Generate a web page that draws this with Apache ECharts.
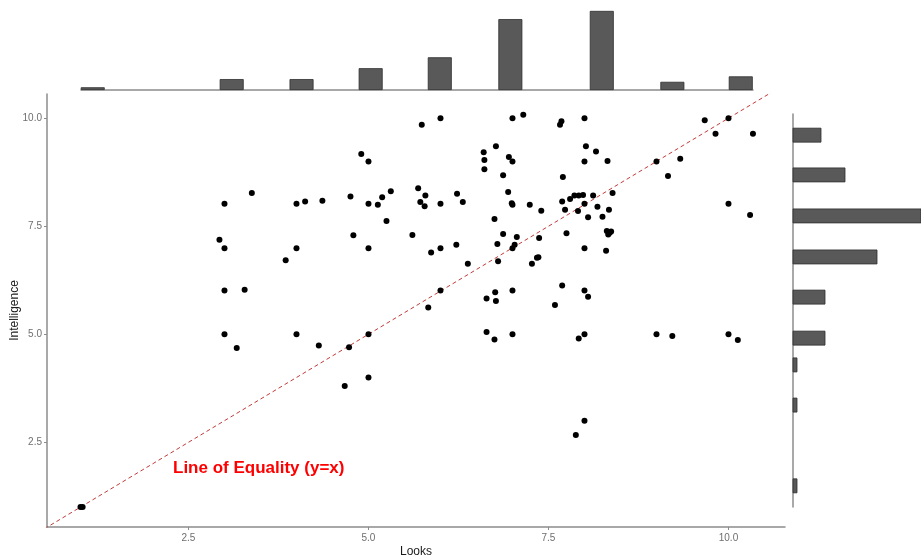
<!DOCTYPE html>
<html>
<head>
<meta charset="utf-8">
<script src="https://cdn.jsdelivr.net/npm/echarts@6/dist/echarts.min.js"></script>
<style>html,body{margin:0;padding:0;background:#fff}#c{width:921px;height:559px}</style>
</head>
<body>
<div id="c"></div>
<script>
// Scatter data: [Looks, Intelligence]
const looks = [1.0,1.03,3.0,3.17,4.0,4.31,4.73,5.0,5.0,4.67,3.0,3.28,3.85,2.93,3.0,4.0,5.0,4.79,5.25,3.0,3.38,4.0,4.12,4.36,4.75,5.0,5.13,5.19,5.31,4.9,5.0,5.61,5.69,5.72,5.79,5.78,5.74,6.0,5.87,6.0,6.0,6.0,5.83,6.23,6.31,6.22,6.38,6.6,6.61,6.61,6.77,6.95,7.0,6.87,7.0,7.15,6.94,6.99,7.0,6.75,6.87,6.79,7.06,7.03,7.0,6.8,6.64,6.76,6.77,7.0,6.64,6.75,7.0,7.24,7.4,7.37,7.34,7.36,7.27,7.59,7.68,7.66,8.0,7.7,7.69,7.8,7.86,7.92,7.98,8.12,8.0,7.73,7.91,8.05,7.75,8.0,8.02,8.16,8.18,8.0,7.69,8.0,8.05,7.92,8.0,8.0,7.88,8.32,8.39,8.34,8.25,8.31,8.35,8.33,8.37,8.3,9.0,9.33,9.16,9.0,9.22,9.67,10.0,9.82,10.34,10.0,10.3,10.0,10.13];
const intelligence = [1.0,1.0,5.0,4.68,5.0,4.74,4.7,5.0,4.0,3.8,6.01,6.03,6.71,7.19,6.99,6.99,6.99,7.29,7.62,8.02,8.27,8.02,8.07,8.09,8.19,8.02,8.0,8.17,8.31,9.17,9.0,7.3,8.38,8.06,8.21,7.96,9.85,10.0,6.89,8.02,6.99,6.01,5.62,8.25,8.06,7.07,6.63,9.21,9.03,8.82,9.35,9.1,9.0,8.68,10.0,10.08,8.29,8.03,8.0,7.67,7.32,7.09,7.25,7.07,6.99,6.69,5.83,5.97,5.77,6.01,5.05,4.88,5.0,8.0,7.86,7.23,6.77,6.78,6.63,5.68,9.93,9.85,10.0,8.64,8.07,8.13,8.21,8.21,8.22,8.21,8.02,7.88,7.85,7.71,7.34,9.0,9.35,9.23,7.95,6.99,6.13,6.01,5.87,4.9,5.0,3.0,2.67,9.01,8.27,7.88,7.72,7.39,7.35,7.31,7.38,6.93,9.0,9.06,8.66,5.0,4.96,9.95,10.0,9.64,9.64,8.02,7.76,5.0,4.87];

// Top marginal histogram (Looks)
const looksBins = [1.17,3.10,4.07,5.03,5.99,6.97,8.24,9.22,10.17];
const looksCounts = [1,4,4,8,12,26,29,3,5];

// Right marginal histogram (Intelligence)
const intelBins = [9.61,8.69,7.74,6.79,5.86,4.91,4.29,3.36,1.49];
const intelCounts = [7,13,32,21,8,8,1,1,1];

// Tick labels
const ticks = [2.5,5.0,7.5,10.0];

const scatterData = looks.map((x,i)=>[x,intelligence[i]]);
const topData = looksBins.map((x,i)=>[x,looksCounts[i]]);
const rightData = intelBins.map((y,i)=>[intelCounts[i],y]);

const axisGray = '#8c8c8c';
const barFill = '#595959';
const barEdge = '#2e2e2e';

const chart = echarts.init(document.getElementById('c'), null, {renderer:'canvas'});
chart.setOption({
  animation:false,
  backgroundColor:'#ffffff',
  grid:[
    {left:47, right:136, top:94, bottom:32, containLabel:false, outerBoundsMode:'none'},
    {left:81, right:168, top:0, height:90, containLabel:false, outerBoundsMode:'none'},
    {left:793, right:0, top:114, height:393, containLabel:false, outerBoundsMode:'none'}
  ],
  xAxis:[
    {gridIndex:0, type:'value', min:0.535, max:10.785,
     name:'Looks', nameLocation:'middle', nameGap:19, nameMoveOverlap:false,
     nameTextStyle:{color:'#1a1a1a', fontSize:12, fontFamily:'Liberation Sans'},
     splitLine:{show:false},
     axisLine:{show:true, lineStyle:{color:axisGray, width:1.5}},
     axisTick:{show:true, length:3, customValues:ticks, lineStyle:{color:axisGray}},
     axisLabel:{customValues:ticks, formatter:v=>v.toFixed(1), color:'#6e6e6e', fontSize:10, margin:6, fontFamily:'Liberation Sans'}},
    {gridIndex:1, type:'value', min:1.007, max:10.34, show:true,
     splitLine:{show:false}, axisTick:{show:false}, axisLabel:{show:false},
     axisLine:{show:true, lineStyle:{color:axisGray, width:1.5}}},
    {gridIndex:2, type:'value', min:0, max:32, show:false}
  ],
  yAxis:[
    {gridIndex:0, type:'value', min:0.54, max:10.56,
     name:'Intelligence', nameLocation:'middle', nameGap:26, nameMoveOverlap:false,
     nameTextStyle:{color:'#1a1a1a', fontSize:12, fontFamily:'Liberation Sans'},
     splitLine:{show:false},
     axisLine:{show:true, lineStyle:{color:axisGray, width:1.5}},
     axisTick:{show:true, length:3, customValues:ticks, lineStyle:{color:axisGray}},
     axisLabel:{customValues:ticks, formatter:v=>v.toFixed(1), color:'#6e6e6e', fontSize:10, margin:5, fontFamily:'Liberation Sans'}},
    {gridIndex:1, type:'value', min:0, max:33, show:false},
    {gridIndex:2, type:'value', min:1.0, max:10.1, show:true,
     splitLine:{show:false}, axisTick:{show:false}, axisLabel:{show:false},
     axisLine:{show:true, lineStyle:{color:axisGray, width:1.5}}}
  ],
  series:[
    {type:'line', xAxisIndex:0, yAxisIndex:0, data:[[0,0],[11,11]], symbol:'none', clip:true,
     lineStyle:{color:'#c23b3b', width:1, type:[4,3]}, z:1},
    {type:'scatter', xAxisIndex:0, yAxisIndex:0, data:scatterData, symbolSize:6,
     itemStyle:{color:'#000000', opacity:1}, z:3},
    {type:'bar', xAxisIndex:1, yAxisIndex:1, data:topData, barWidth:24,
     itemStyle:{color:barFill, borderColor:barEdge, borderWidth:0.8}},
    {type:'custom', xAxisIndex:2, yAxisIndex:2, data:rightData, encode:{x:0, y:1},
     renderItem:function(params, api){
       const c = api.value(0), y = api.value(1);
       const p0 = api.coord([0, y]);
       const p1 = api.coord([c, y]);
       const h = 14;
       return {type:'rect', shape:{x:p0[0], y:p0[1]-h/2, width:p1[0]-p0[0], height:h},
               style:{fill:barFill, stroke:barEdge, lineWidth:0.8}};
     }}
  ],
  graphic:[
    {type:'text', left:173, top:460,
     style:{text:'Line of Equality (y=x)', fill:'#ff0000', font:'bold 17px "Liberation Sans"'}}
  ]
});
</script>
</body>
</html>
